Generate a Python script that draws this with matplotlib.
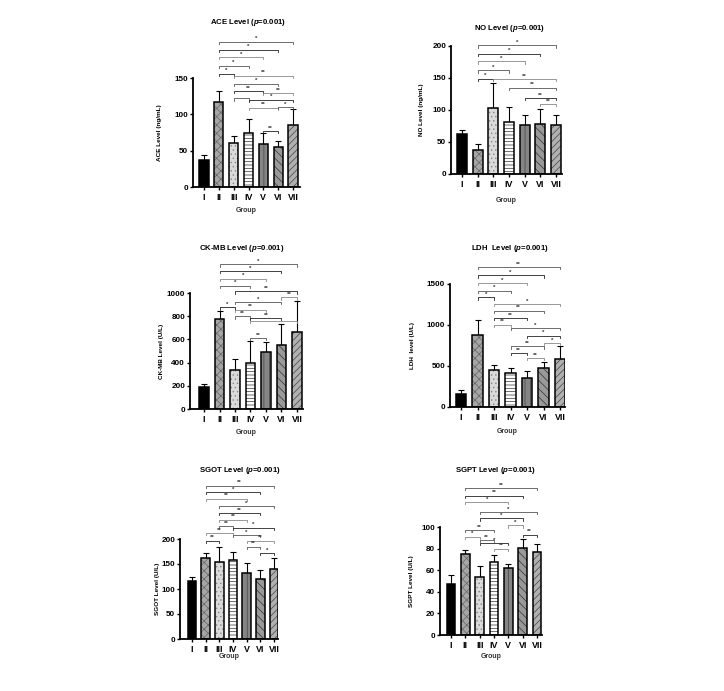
import matplotlib
matplotlib.use("Agg")
import matplotlib.pyplot as plt
import numpy as np

plt.rcParams['font.family'] = ['Liberation Sans', 'DejaVu Sans']
plt.rcParams['font.weight'] = 'bold'
plt.rcParams['mathtext.fontset'] = 'custom'
plt.rcParams['mathtext.rm'] = 'Liberation Sans:bold'
plt.rcParams['mathtext.it'] = 'Liberation Sans:italic:bold'
plt.rcParams['hatch.linewidth'] = 0.5

groups = ['I', 'II', 'III', 'IV', 'V', 'VI', 'VII']

ace_mean = [37, 117, 61, 75, 59, 55, 86]
ace_err = [7, 15, 9, 19, 15, 8, 21]
no_mean = [62, 38, 103, 81, 77, 78, 76]
no_err = [6, 9, 39, 24, 15, 24, 16]
ck_mean = [191, 777, 335, 396, 494, 549, 668]
ck_err = [23, 64, 99, 191, 87, 182, 266]
ldh_mean = [159, 872, 452, 412, 359, 473, 587]
ldh_err = [45, 184, 62, 61, 85, 73, 151]
sgot_mean = [116, 163, 154, 158, 133, 121, 141]
sgot_err = [8, 9, 31, 17, 19, 18, 21]
sgpt_mean = [47, 75, 54, 68, 62, 81, 77]
sgpt_err = [9, 4, 9.5, 6, 4, 8, 7.6]

# significance brackets: (from group, to group, height, label)
ace_sig = [(1, 6, 200, '*'), (1, 5, 189, '*'), (1, 4, 179, '*'), (1, 3, 167, '*'),
           (1, 2, 156, '*'), (2, 6, 153, '**'), (2, 5, 142, '*'), (2, 4, 132, '**'),
           (4, 6, 129, '**'), (2, 3, 122, ''), (3, 6, 120, '*'), (3, 5, 109, '**'),
           (5, 6, 110, '*'), (4, 5, 77, '**')]
no_sig = [(1, 6, 201, '*'), (1, 5, 188, '*'), (1, 4, 176, '*'), (1, 3, 162, '*'),
          (1, 2, 149, '*'), (2, 6, 148, '**'), (3, 6, 135, '**'), (4, 6, 119, '**'),
          (5, 6, 109, '**')]
ck_sig = [(1, 6, 1246, '*'), (1, 5, 1188, '*'), (1, 4, 1124, '*'), (1, 3, 1064, '*'),
          (2, 6, 1014, '**'), (5, 6, 962, '**'), (2, 5, 922, '*'), (1, 2, 876, '*'),
          (2, 4, 855, '**'), (2, 3, 798, '**'), (3, 5, 783, '**'), (3, 6, 760, ''),
          (3, 4, 610, '**')]
ldh_sig = [(1, 6, 1704, '**'), (1, 5, 1606, '*'), (1, 4, 1512, '*'), (1, 3, 1419, '*'),
           (1, 2, 1337, '*'), (2, 6, 1256, '*'), (2, 5, 1174, '**'), (2, 4, 1084, '**'),
           (2, 3, 1003, '**'), (3, 6, 962, '*'), (4, 6, 868, '*'), (5, 6, 779, '*'),
           (3, 5, 738, '**'), (3, 4, 656, '**'), (4, 5, 595, '**')]
sgot_sig = [(1, 6, 307, '**'), (1, 5, 294, '*'), (1, 4, 281, '**'), (2, 6, 266, '*'),
            (2, 5, 252, '**'), (2, 4, 239, '**'), (2, 3, 226, '**'), (3, 6, 223, '*'),
            (1, 3, 212, '**'), (3, 5, 208, '*'), (1, 2, 197, '**'), (4, 6, 197, '**'),
            (4, 5, 185, '**'), (5, 6, 172, '*')]
sgpt_sig = [(1, 6, 136, '**'), (1, 5, 129, '**'), (1, 4, 123, '*'), (2, 6, 114, '*'),
            (2, 5, 108, '*'), (4, 5, 101.5, '*'), (1, 3, 97, '**'), (5, 6, 93, '**'),
            (1, 2, 91, '*'), (2, 3, 88, '**'), (2, 4, 85, '*'), (3, 4, 80, '**')]

bar_styles = [
    dict(facecolor='#000000', hatch=None, hc='#000000'),
    dict(facecolor='#a6a6a6', hatch='xxxx', hc='#666666'),
    dict(facecolor='#dadada', hatch='....', hc='#888888'),
    dict(facecolor='#ffffff', hatch='-----', hc='#333333'),
    dict(facecolor='#858585', hatch='|||', hc='#444444'),
    dict(facecolor='#999999', hatch='\\\\\\\\', hc='#333333'),
    dict(facecolor='#b0b0b0', hatch='/////', hc='#444444'),
]
line_cols = ['#555555', '#222222', '#888888']

W, H = 724, 691
fig = plt.figure(figsize=(W / 100, H / 100), dpi=100)


def px_axes(left, right, bottom, top):
    return fig.add_axes([left / W, 1 - bottom / H, (right - left) / W, (bottom - top) / H])


panels = [
    dict(mean=ace_mean, err=ace_err, sig=ace_sig, box=(193, 300, 187, 78), ymax=150, step=50,
         x0=204, x6=293, title=r'ACE Level ($p$=0.001)', tpos=(248, 23),
         ylabel='ACE Level (ng/mL)', ylx=159, gy=210),
    dict(mean=no_mean, err=no_err, sig=no_sig, box=(451, 562, 174, 46), ymax=200, step=50,
         x0=462, x6=556, title=r'NO Level ($p$=0.001)', tpos=(510, 28),
         ylabel='NO Level (ng/mL)', ylx=422, gy=201),
    dict(mean=ck_mean, err=ck_err, sig=ck_sig, box=(190, 303, 409, 293), ymax=1000, step=200,
         x0=204, x6=297, title=r'CK-MB Level ($p$=0.001)', tpos=(242, 248),
         ylabel='CK-MB Level (U/L)', ylx=161, gy=433),
    dict(mean=ldh_mean, err=ldh_err, sig=ldh_sig, box=(450, 565, 407, 284), ymax=1500, step=500,
         x0=461, x6=560, title=r'LDH  Level ($p$=0.001)', tpos=(510, 249),
         ylabel='LDH  level (U/L)', ylx=413, gy=432),
    dict(mean=sgot_mean, err=sgot_err, sig=sgot_sig, box=(180, 278, 639, 539), ymax=200, step=50,
         x0=192, x6=274, title=r'SGOT Level ($p$=0.001)', tpos=(240, 470),
         ylabel='SGOT Level (U/L)', ylx=157, gy=657),
    dict(mean=sgpt_mean, err=sgpt_err, sig=sgpt_sig, box=(440, 542, 635, 527), ymax=100, step=20,
         x0=451, x6=537, title=r'SGPT Level ($p$=0.001)', tpos=(495, 470),
         ylabel='SGPT Level (U/L)', ylx=412, gy=657),
]

for p in panels:
    left, right, bottom, top = p['box']
    ax = px_axes(left, right, bottom, top)
    sp = (p['x6'] - p['x0']) / 6.0
    ax.set_xlim(-(p['x0'] - left) / sp, 6 + (right - p['x6']) / sp)
    ax.set_ylim(0, p['ymax'])
    ppu = (bottom - top) / p['ymax']  # pixels per data unit
    x = np.arange(len(groups))
    for i in range(len(groups)):
        st = bar_styles[i]
        ax.bar(x[i], p['mean'][i], width=0.62, facecolor=st['facecolor'], hatch=st['hatch'],
               edgecolor=st['hc'], linewidth=0, zorder=2)
        ax.bar(x[i], p['mean'][i], width=0.62, fill=False,
               edgecolor='black', linewidth=1.1, zorder=2.5)
    ax.errorbar(x, p['mean'], yerr=[np.zeros(len(groups)), p['err']], fmt='none',
                ecolor='black', elinewidth=0.8, capsize=2.2, capthick=0.8, zorder=1,
                clip_on=False)
    ax.set_yticks(np.arange(0, p['ymax'] + 0.1, p['step']))
    ax.set_xticks(x)
    ax.set_xticklabels(groups, fontsize=6.4, fontweight='bold')
    ax.tick_params(axis='y', labelsize=5.9, width=1.0, length=2.5, pad=1)
    ax.tick_params(axis='x', width=1.0, length=2.5, pad=1.5)
    for lbl in ax.get_yticklabels():
        lbl.set_fontweight('bold')
    for s in ['top', 'right']:
        ax.spines[s].set_visible(False)
    for s in ['left', 'bottom']:
        ax.spines[s].set_linewidth(1.3)
    tick = 2.2 / ppu
    for k, (i, j, yv, lab) in enumerate(p['sig']):
        c = line_cols[k % 3]
        ax.plot([i, i, j, j], [yv - tick, yv, yv, yv - tick], color=c, lw=0.6,
                clip_on=False, zorder=3)
        if lab:
            ax.text((i + j) / 2, yv + 0.4 / ppu, lab, ha='center', va='bottom',
                    fontsize=4.4, color='#333333', clip_on=False)
    fig.text(p['tpos'][0] / W, 1 - p['tpos'][1] / H, p['title'], ha='center', va='center',
             fontsize=5.6, fontweight='bold')
    fig.text(p['ylx'] / W, 1 - (top + bottom) / 2 / H, p['ylabel'], ha='center', va='center',
             rotation=90, fontsize=4.6, fontweight='bold')
    fig.text((left + right) / 2 / W, 1 - p['gy'] / H, 'Group', ha='center', va='center',
             fontsize=5.0, fontweight='bold', color='#333333')

fig.savefig('out.png', dpi=100, facecolor='white')
